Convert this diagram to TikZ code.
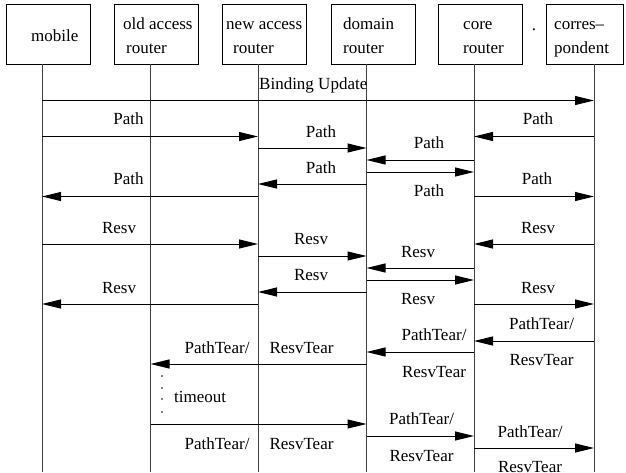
\documentclass[tikz,border=0pt]{standalone}
\usepackage{fontspec}
\setmainfont{Liberation Serif}
\usetikzlibrary{arrows.meta}
\tikzset{
  box/.style={draw, line width=1pt, minimum width=84pt, minimum height=60pt, inner sep=0pt},
  life/.style={line width=0.9pt, draw=black!75},
  msgarrow/.style={line width=1pt, -{Triangle[length=19pt,width=9pt]}},
  txt/.style={font=\fontsize{17}{20}\selectfont, inner sep=0pt, anchor=base},
  txtw/.style={txt, anchor=base west},
}
\newcommand\msgline[3]{\draw[msgarrow] (#1 |- 0,#3) -- (#2 |- 0,#3);}
\begin{document}
\begin{tikzpicture}[x=1pt,y=-1pt]
\useasboundingbox (0,0) rectangle (626,472);
% boxes
\node[box] (b1) at (48,34) {};
\node[box] (b2) at (156,34) {};
\node[box] (b3) at (264.5,34) {};
\node[box] (b4) at (373,34) {};
\node[box] (b5) at (480.5,34) {};
\node[box, minimum width=77pt] (b6) at (584.5,34) {};
% box texts
\node[txtw] (t1) at (31,41) {mobile};
\node[txtw] (t2a) at (123,29) {old access};
\node[txtw] (t2b) at (126,53) {router};
\node[txtw] (t3a) at (226,29) {new access};
\node[txtw] (t3b) at (233,53) {router};
\node[txtw] (t4a) at (343,29) {domain};
\node[txtw] (t4b) at (343,53) {router};
\node[txtw] (t5a) at (463,29) {core};
\node[txtw] (t5b) at (463,53) {router};
\node[txtw] (t6a) at (554,29) {corres–};
\node[txtw] (t6b) at (554,53) {pondent};
\node[txt] (dot) at (534,30) {.};
% lifelines
\coordinate (l1) at (42,64);
\coordinate (l2) at (150.5,64);
\coordinate (l3) at (258,64);
\coordinate (l4) at (366.5,64);
\coordinate (l5) at (474,64);
\coordinate (l6) at (594,64);
\foreach \i in {1,...,6} \draw[life] (l\i) -- (l\i |- 0,472);
% messages
\msgline{l1}{l6}{100.5}
\msgline{l1}{l3}{136.5}
\msgline{l6}{l5}{136.5}
\msgline{l3}{l4}{148}
\msgline{l5}{l4}{160}
\msgline{l4}{l5}{172}
\msgline{l4}{l3}{184}
\msgline{l3}{l1}{196.5}
\msgline{l5}{l6}{196.5}
\msgline{l1}{l3}{244}
\msgline{l6}{l5}{244}
\msgline{l3}{l4}{256}
\msgline{l5}{l4}{268}
\msgline{l4}{l5}{280}
\msgline{l4}{l3}{292}
\msgline{l3}{l1}{304}
\msgline{l5}{l6}{304}
\msgline{l6}{l5}{341}
\msgline{l5}{l4}{352}
\msgline{l4}{l2}{364}
\msgline{l2}{l4}{424}
\msgline{l4}{l5}{436}
\msgline{l5}{l6}{448}
% labels
\node[txtw] (m1) at (259,89) {Binding Update};
\node[txt] (m2) at (128.5,124) {Path};
\node[txt] (m3) at (538,124) {Path};
\node[txt] (m4) at (321,137) {Path};
\node[txt] (m5) at (429,148) {Path};
\node[txt] (m6) at (321,173) {Path};
\node[txt] (m7) at (128.5,184) {Path};
\node[txt] (m8) at (537,184) {Path};
\node[txt] (m9) at (429,196) {Path};
\node[txt] (r1) at (119,233) {Resv};
\node[txt] (r2) at (538,233) {Resv};
\node[txt] (r3) at (311,244) {Resv};
\node[txt] (r4) at (418,257) {Resv};
\node[txt] (r5) at (311,280) {Resv};
\node[txt] (r6) at (119,293) {Resv};
\node[txt] (r7) at (538,293) {Resv};
\node[txt] (r8) at (418,304) {Resv};
\node[txt] (p1a) at (541.5,329) {PathTear/};
\node[txt] (p1b) at (541.5,365) {ResvTear};
\node[txt] (p2a) at (434,340) {PathTear/};
\node[txt] (p2b) at (434,377) {ResvTear};
\node[txt] (p3a) at (217,353) {PathTear/};
\node[txt] (p3b) at (301.5,353) {ResvTear};
\node[txtw] (to) at (174,402) {timeout};
\node[txt] (p4a) at (217,449) {PathTear/};
\node[txt] (p4b) at (301.5,449) {ResvTear};
\node[txt] (p5a) at (421.5,424) {PathTear/};
\node[txt] (p5b) at (421.5,461) {ResvTear};
\node[txt] (p6a) at (530,437) {PathTear/};
\node[txt] (p6b) at (530,472) {ResvTear};
% timeout dots
\foreach \yy in {376,388,399,412} \fill (162,\yy) circle (0.8pt);
\end{tikzpicture}
\end{document}
